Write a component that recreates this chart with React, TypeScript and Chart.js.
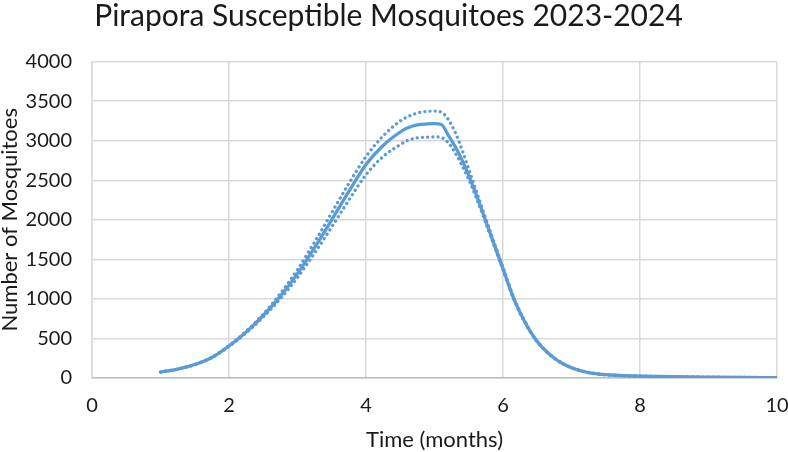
import React, { useEffect, useRef } from "react";
import { Chart, registerables } from "chart.js";

Chart.register(...registerables);

const TITLE = "Pirapora Susceptible Mosquitoes 2023-2024";
const X_TITLE = "Time (months)";
const Y_TITLE = "Number of Mosquitoes";

const months = [1, 1.25, 1.5, 1.75, 2, 2.25, 2.5, 2.75, 3, 3.25, 3.5, 3.75, 4, 4.25, 4.5, 4.6, 4.75, 4.9, 5.0, 5.1, 5.2, 5.3, 5.4, 5.5, 5.6, 5.75, 6, 6.15, 6.3, 6.5, 6.75, 7, 7.25, 7.5, 7.75, 8, 8.5, 9, 9.5, 10];

const meanValues = [75, 112, 170, 260, 405, 580, 790, 1035, 1320, 1650, 2000, 2360, 2700, 2940, 3110, 3160, 3200, 3212, 3215, 3205, 3070, 2930, 2760, 2560, 2340, 1980, 1380, 1020, 740, 460, 250, 130, 68, 42, 31, 24, 16, 11, 7, 5];

const upperValues = [75, 112, 171, 263, 411, 590, 808, 1068, 1370, 1720, 2090, 2460, 2800, 3060, 3250, 3300, 3350, 3372, 3375, 3360, 3270, 3110, 2890, 2640, 2390, 2010, 1400, 1030, 748, 465, 253, 132, 69, 43, 31, 24, 16, 11, 7, 5];

const lowerValues = [75, 112, 169, 257, 399, 570, 772, 1002, 1270, 1580, 1910, 2250, 2570, 2800, 2950, 3000, 3035, 3046, 3048, 3040, 2975, 2850, 2690, 2510, 2300, 1955, 1365, 1010, 733, 455, 247, 128, 67, 41, 30, 24, 16, 11, 7, 5];

const xTicks = [0, 2, 4, 6, 8, 10];
const yTicks = [0, 500, 1000, 1500, 2000, 2500, 3000, 3500, 4000];

const BLUE = "#5B9BD5";
const FONT = "Lato";
const TEXT = "#1a1a1a";

function toPoints(values: number[]) {
  return months.map((m, i) => ({ x: m, y: values[i] }));
}

export default function App() {
  const canvasRef = useRef<HTMLCanvasElement | null>(null);

  useEffect(() => {
    document.body.style.margin = "0";
    const canvas = canvasRef.current;
    if (!canvas) return;
    const dotted = {
      borderColor: BLUE,
      borderWidth: 3.3,
      borderDash: [0.01, 5.2],
      borderCapStyle: "round" as const,
      pointRadius: 0,
      cubicInterpolationMode: "monotone" as const,
      fill: false,
    };
    const chart = new Chart(canvas, {
      type: "line",
      data: {
        datasets: [
          { label: "Upper", data: toPoints(upperValues), ...dotted },
          { label: "Lower", data: toPoints(lowerValues), ...dotted },
          {
            label: "Mean",
            data: toPoints(meanValues),
            borderColor: BLUE,
            borderWidth: 3.3,
            pointRadius: 0,
            cubicInterpolationMode: "monotone",
            fill: false,
          },
        ],
      },
      options: {
        responsive: false,
        animation: false,
        devicePixelRatio: 1,
        layout: { padding: { left: 0, right: 11, top: 0, bottom: 0 } },
        plugins: {
          legend: { display: false },
          tooltip: { enabled: false },
          title: {
            display: true,
            text: TITLE,
            color: TEXT,
            font: { family: FONT, size: 30, weight: "normal", lineHeight: 1.07 },
            padding: { top: 0, bottom: 29.5 },
          },
        },
        scales: {
          x: {
            type: "linear",
            min: 0,
            max: 10,
            afterBuildTicks: (scale: any) => {
              scale.ticks = xTicks.map((v) => ({ value: v }));
            },
            afterFit: (scale: any) => {
              scale.height = 74;
              scale.paddingRight = 10;
              scale.paddingLeft = 5;
            },
            ticks: {
              color: TEXT,
              font: { family: FONT, size: 20 },
              padding: 16,
              maxRotation: 0,
            },
            grid: { color: "#D9D9D9", lineWidth: 1.5, drawTicks: false },
            border: { color: "#BFBFBF", width: 1.5 },
            title: {
              display: true,
              text: X_TITLE,
              color: TEXT,
              font: { family: FONT, size: 22, lineHeight: 1.0 },
              padding: { top: 0, bottom: 1 },
            },
          },
          y: {
            type: "linear",
            min: 0,
            max: 4000,
            afterBuildTicks: (scale: any) => {
              scale.ticks = yTicks.map((v) => ({ value: v }));
            },
            afterFit: (scale: any) => {
              scale.width = 92;
            },
            ticks: {
              color: TEXT,
              font: { family: FONT, size: 20 },
              padding: 20,
              callback: (v: any) => String(v),
            },
            grid: { color: "#D9D9D9", lineWidth: 1.5, drawTicks: false },
            border: { color: "#D9D9D9", width: 1.5 },
            title: {
              display: true,
              text: Y_TITLE,
              color: TEXT,
              font: { family: FONT, size: 22, lineHeight: 0.86 },
              padding: { top: 0, bottom: 0 },
            },
          },
        },
      },
    });
    return () => chart.destroy();
  }, []);

  return (
    <div style={{ width: 788, height: 452 }}>
      <canvas ref={canvasRef} width={788} height={452} style={{ display: "block" }} />
    </div>
  );
}
